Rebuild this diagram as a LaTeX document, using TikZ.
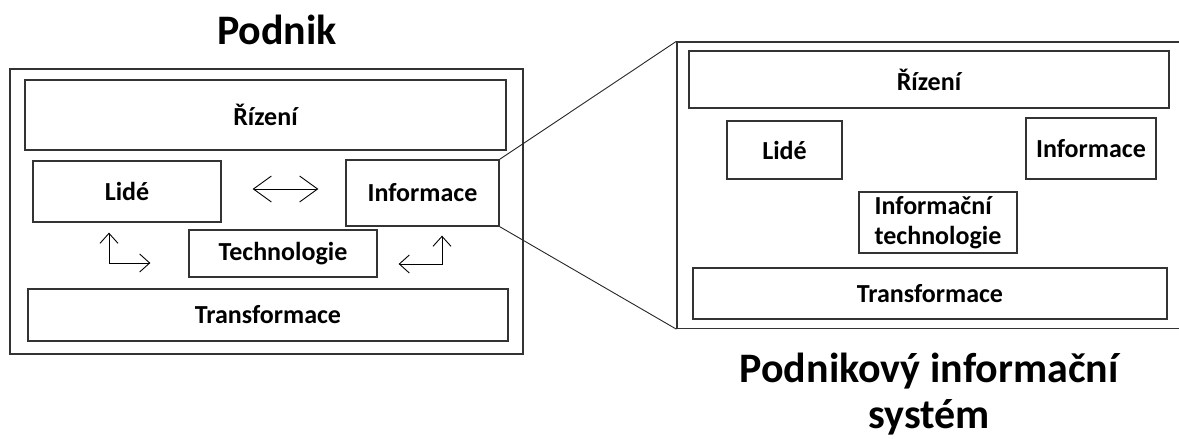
\documentclass[tikz,border=0pt]{standalone}
\usepackage{fontspec}
\setmainfont{Carlito}
\usetikzlibrary{arrows.meta,positioning}

\begin{document}
\begin{tikzpicture}[x=1pt,y=-1pt,
    box/.style={draw=black!80, line width=1.3pt, inner sep=0pt, font=\bfseries\fontsize{26}{30}\selectfont},
    title/.style={font=\bfseries\fontsize{42}{46}\selectfont},
    zoomline/.style={black!85, line width=0.9pt},
    dblarrow/.style={line width=0.9pt, {Straight Barb[length=18pt,width=26pt]}-{Straight Barb[length=18pt,width=26pt]}},
    elbow/.style={line width=0.9pt, {Straight Barb[length=10pt,width=18pt]}-{Straight Barb[length=10pt,width=18pt]}}]
  \useasboundingbox (0,0) rectangle (1179,439);

  % Podnik
  \node[title, anchor=base] (podniktitle) at (277,44) {Podnik};
  \node[box, minimum width=513pt, minimum height=285pt] (podnik) at (266.5,211.5) {};
  \node[box, minimum width=481pt, minimum height=70pt] (rizeni) at (265.5,115) {Řízení};
  \node[box, minimum width=188pt, minimum height=61pt] (lide) at (127,191.5) {Lidé};
  \node[box, minimum width=153pt, minimum height=66pt] (info) at (422.5,193) {Informace};
  \node[box, minimum width=188pt, minimum height=47pt] (tech) at (283,253.5) {Technologie};
  \node[box, minimum width=480pt, minimum height=52pt] (transf) at (268,315) {Transformace};

  % arrows between the parts
  \draw[dblarrow, shorten <=31pt, shorten >=27pt] ([yshift=2.5pt]lide.east) -- ([yshift=4pt]info.west);
  \coordinate (elbowL) at (109,263);
  \draw[elbow, shorten <=10pt, shorten >=38pt] (elbowL |- lide.south) |- (tech.west |- elbowL);
  \coordinate (elbowR) at (442,264);
  \draw[elbow, shorten <=21pt, shorten >=9pt] (tech.east |- elbowR) -| (elbowR |- info.south);

  % Podnikovy informacni system
  \node[box, minimum width=505pt, minimum height=286.5pt] (pis) at (929.5,185.25) {};
  \node[box, minimum width=480pt, minimum height=57pt] (rizeni2) at (929,79.5) {Řízení};
  \node[box, minimum width=115pt, minimum height=58pt] (lide2) at (784.5,150) {Lidé};
  \node[box, minimum width=130pt, minimum height=61pt] (info2) at (1091,148.5) {Informace};
  \node[box, align=left, minimum width=158pt, minimum height=61pt] (it2) at (938,222.5) {Informační\\technologie};
  \node[box, minimum width=474pt, minimum height=51pt] (transf2) at (930,293.5) {Transformace};
  \node[title, align=center, anchor=base] (pistitle) at (929,428) {Podnikový informační\\systém};

  % zoom lines
  \draw[zoomline] (info.north east) -- (pis.north west);
  \draw[zoomline] (info.south east) -- (pis.south west);
\end{tikzpicture}
\end{document}
